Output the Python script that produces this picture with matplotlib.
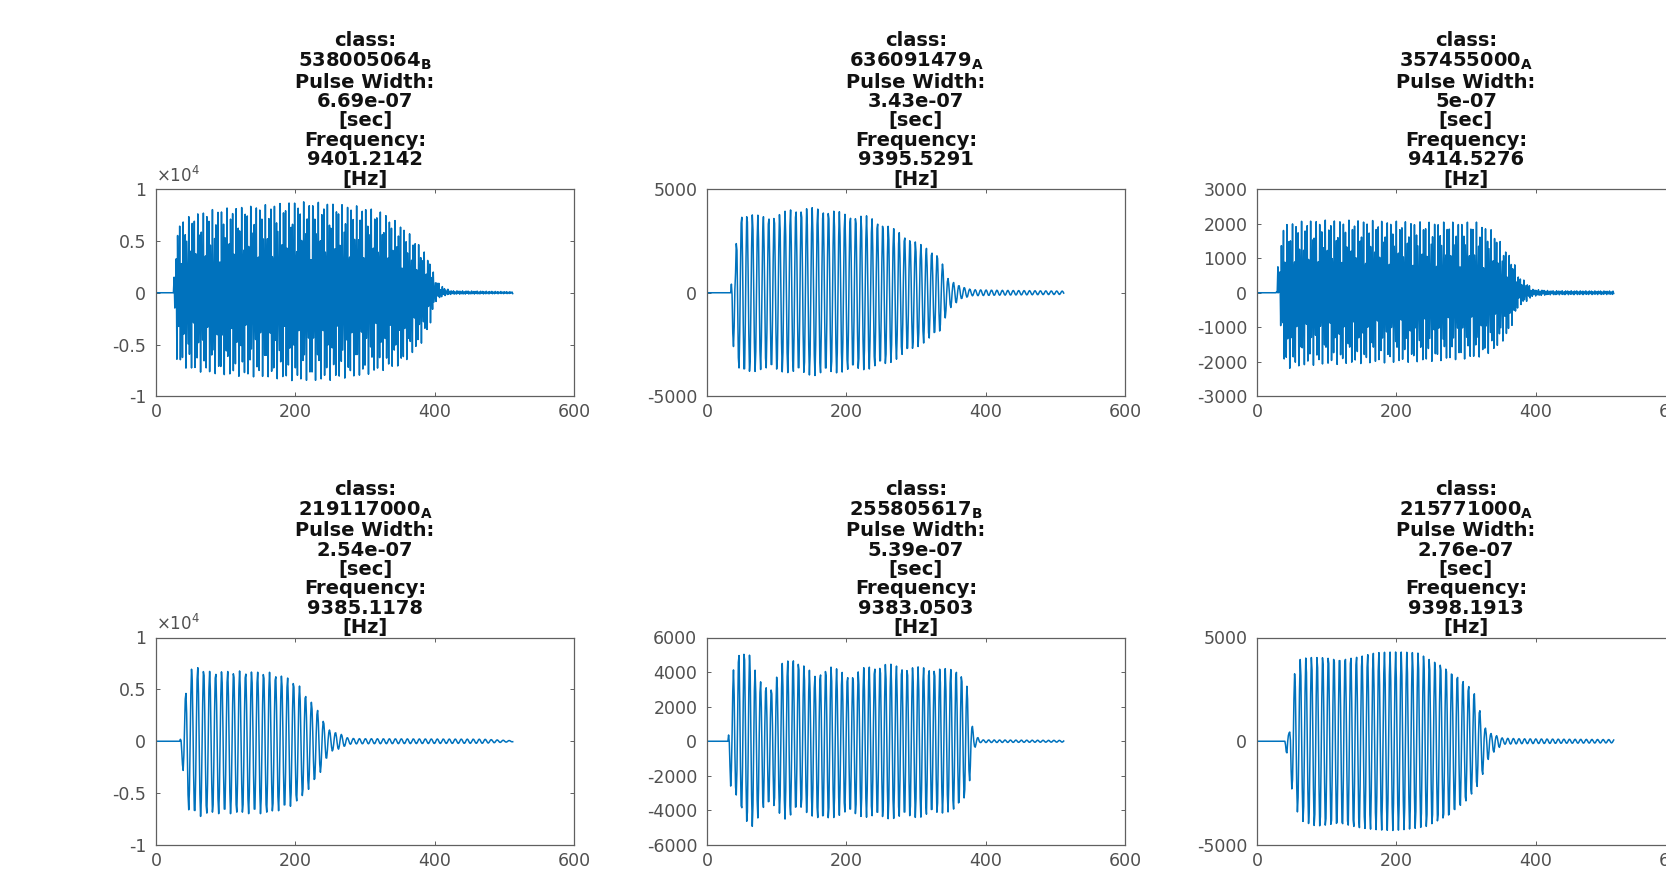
import numpy as np
import matplotlib
matplotlib.use("Agg")
import matplotlib.pyplot as plt
from matplotlib.ticker import FuncFormatter

plt.rcParams['font.family'] = ['DejaVu Sans']
plt.rcParams['axes.unicode_minus'] = False

# ---------------- data ----------------
CLASSES = ["538005064", "636091479", "357455000", "219117000", "255805617", "215771000"]
CLASS_SUB = ["B", "A", "A", "A", "B", "A"]
PULSE_WIDTHS = ["6.69e-07", "3.43e-07", "5e-07", "2.54e-07", "5.39e-07", "2.76e-07"]
FREQUENCIES = ["9401.2142", "9395.5291", "9414.5276", "9385.1178", "9383.0503", "9398.1913"]

N_SAMPLES = 512
# oscillation period (samples per cycle)
PERIODS = [2.62, 7.8, 2.615, 8.6, 7.8, 8.05]
ONSETS = [26, 34, 30, 34, 30, 38]

# envelopes: upper / lower extremes of the oscillation (sample index, value)
P1_UP_X = [0, 25, 27, 30, 34, 50, 78, 105, 160, 199, 243, 298, 325, 353, 380, 394, 400, 405, 413, 424, 512]
P1_UP_Y = [0, 0, 3000, 6500, 6800, 7500, 8000, 8200, 8500, 8800, 8700, 8300, 7800, 6500, 4500, 3000, 1500, 1000, 500, 200, 100]
P1_LO_X = P1_UP_X
P1_LO_Y = [0, 0, -2000, -6500, -7000, -7500, -7800, -8000, -8200, -8500, -8500, -8000, -7500, -7000, -5000, -3000, -1000, -600, -300, -150, -80]

P2_UP_X = [0, 34, 36, 41, 43, 52, 78, 103, 124, 155, 180, 201, 231, 257, 283, 308, 334, 341, 347, 354, 365, 380, 420, 512]
P2_UP_Y = [0, 0, 1200, 1200, 3600, 3900, 3700, 3800, 4100, 4100, 4000, 3800, 3700, 3300, 2800, 2300, 1800, 1100, 600, 500, 300, 150, 120, 80]
P2_LO_X = P2_UP_X
P2_LO_Y = [0, 0, -2600, -2600, -3600, -4000, -3700, -3800, -3900, -4000, -3900, -3800, -3700, -3500, -3000, -2500, -1900, -1300, -800, -600, -300, -150, -120, -80]

P3_UP_X = [0, 27, 31, 33, 36, 42, 75, 147, 243, 315, 339, 358, 367, 375, 387, 396, 420, 512]
P3_UP_Y = [0, 0, 1000, 1000, 1900, 2000, 2100, 2100, 2050, 2050, 1800, 1200, 1000, 500, 300, 100, 60, 50]
P3_LO_X = P3_UP_X
P3_LO_Y = [0, 0, 0, -500, -1900, -2200, -2100, -2050, -2000, -1900, -1700, -1300, -900, -400, -250, -100, -60, -50]

P4_UP_X = [0, 34, 38, 42, 50, 62, 78, 105, 160, 188, 204, 215, 232, 240, 246, 251, 265, 276, 290, 470, 512]
P4_UP_Y = [0, 0, 1000, 4500, 7000, 7200, 6700, 6800, 6700, 6200, 5500, 4500, 3000, 2000, 1200, 1000, 700, 300, 250, 200, 50]
P4_LO_X = P4_UP_X
P4_LO_Y = [0, 0, -2300, -6000, -7000, -7300, -7000, -7000, -7000, -6500, -5800, -5000, -3500, -2500, -1500, -1000, -700, -300, -250, -200, -50]

P5_UP_X = [0, 30, 39, 47, 55, 62, 73, 83, 93, 108, 124, 134, 155, 175, 206, 227, 257, 288, 318, 339, 359, 370, 375, 380, 385, 395, 512]
P5_UP_Y = [0, 0, 4700, 5300, 5300, 5000, 3600, 3300, 3100, 4500, 4900, 4600, 3800, 4400, 3800, 4300, 4500, 4300, 4300, 4200, 4200, 3700, 2900, 1000, 300, 80, 50]
P5_LO_X = [0, 30, 34, 42, 51, 60, 68, 78, 93, 114, 134, 165, 196, 227, 257, 308, 359, 375, 382, 390, 512]
P5_LO_Y = [0, 0, -2600, -3200, -4300, -5000, -4900, -4000, -3700, -4600, -3900, -4700, -4200, -4400, -4500, -4400, -4000, -3000, -500, -80, -50]

P6_UP_X = [0, 40, 43, 46, 49, 52, 57, 63, 75, 99, 147, 170, 195, 233, 243, 267, 291, 305, 315, 320, 324, 334, 353, 380, 511]
P6_UP_Y = [0, 0, 400, 400, 1000, 2900, 3800, 4000, 4100, 4200, 4200, 4300, 4300, 4300, 4100, 3800, 3200, 2700, 2200, 1500, 800, 400, 150, 120, 80]
P6_LO_X = [0, 40, 47, 56, 66, 85, 147, 195, 243, 276, 300, 315, 322, 334, 353, 380, 511]
P6_LO_Y = [0, 0, -1800, -3300, -3900, -4200, -4300, -4300, -4200, -3800, -3000, -2300, -1800, -700, -150, -120, -80]

UP_X = [P1_UP_X, P2_UP_X, P3_UP_X, P4_UP_X, P5_UP_X, P6_UP_X]
UP_Y = [P1_UP_Y, P2_UP_Y, P3_UP_Y, P4_UP_Y, P5_UP_Y, P6_UP_Y]
LO_X = [P1_LO_X, P2_LO_X, P3_LO_X, P4_LO_X, P5_LO_X, P6_LO_X]
LO_Y = [P1_LO_Y, P2_LO_Y, P3_LO_Y, P4_LO_Y, P5_LO_Y, P6_LO_Y]

YLIMS = [10000, 5000, 3000, 10000, 6000, 5000]
YSTEPS = [5000, 5000, 1000, 5000, 2000, 5000]
SCALED = [True, False, False, True, False, False]
X_TICKS = [0, 200, 400, 600]

# ---------------- layout ----------------
W, H = 1666, 873
fig = plt.figure(figsize=(W / 100, H / 100), dpi=100)
fig.patch.set_facecolor('white')

col_left = [156, 707, 1257]
ax_w = 418
row_top = [189, 637.5]
ax_h = 207.5

LINE_COLOR = '#0072BD'
GRAY = '#505050'
SPINE = '#606060'

n = np.arange(1, N_SAMPLES + 1)

for i in range(6):
    r, c = divmod(i, 3)
    left = col_left[c] / W
    bottom = 1 - (row_top[r] + ax_h) / H
    ax = fig.add_axes([left, bottom, ax_w / W, ax_h / H])

    up = np.interp(n, UP_X[i], UP_Y[i])
    lo = np.interp(n, LO_X[i], LO_Y[i])
    carrier = np.cos(2 * np.pi * (n - ONSETS[i]) / PERIODS[i])
    y = np.where(carrier >= 0, carrier * up, -carrier * lo)

    ax.plot(n, y, color=LINE_COLOR, lw=1.1)

    ax.set_xlim(0, 600)
    lim = YLIMS[i]
    ax.set_ylim(-lim, lim)
    ax.set_xticks(X_TICKS)
    ax.set_yticks(np.arange(-lim, lim + 1, YSTEPS[i]))
    if SCALED[i]:
        ax.yaxis.set_major_formatter(FuncFormatter(lambda v, p: f"{v / 1e4:g}"))
        ax.text(0.0, 1.015, r'$\times10^{4}$', transform=ax.transAxes,
                ha='left', va='bottom', fontsize=12, color=GRAY)
    else:
        ax.yaxis.set_major_formatter(FuncFormatter(lambda v, p: f"{v:g}"))

    ax.tick_params(direction='in', length=3, width=0.7, colors=SPINE,
                   labelcolor=GRAY, labelsize=12.5, top=True, right=True)
    ax.tick_params(axis='x', pad=5)
    ax.tick_params(axis='y', pad=7)
    for s in ax.spines.values():
        s.set_color(SPINE)
        s.set_linewidth(0.9)

    title = "\n".join([
        "class:",
        CLASSES[i] + r"$_{\mathbf{" + CLASS_SUB[i] + "}}$",
        "Pulse Width:",
        PULSE_WIDTHS[i],
        "[sec]",
        "Frequency:",
        FREQUENCIES[i],
        "[Hz]",
    ])
    ax.set_title(title, fontsize=14, fontweight='bold', linespacing=1.03,
                 pad=3, color='#111111')

fig.savefig("out.png", dpi=100, facecolor='white')
